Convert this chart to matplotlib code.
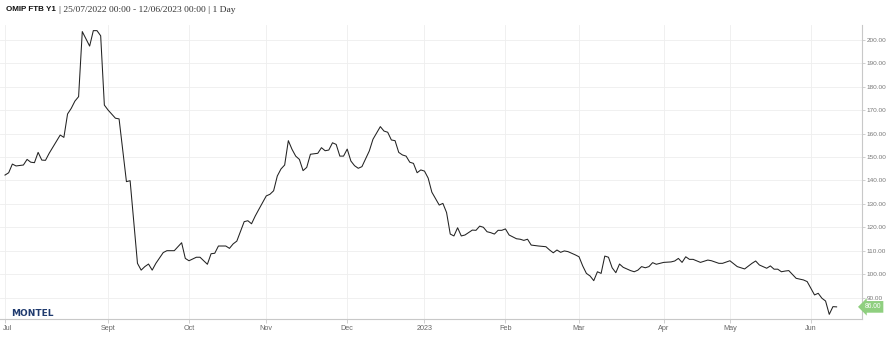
import numpy as np
import matplotlib
matplotlib.use("Agg")
import matplotlib.pyplot as plt
import matplotlib.transforms as mtransforms

# ---------------- data ----------------
title_main = "OMIP FTB Y1"
title_sub = "| 25/07/2022 00:00 - 12/06/2023 00:00 | 1 Day"
holidays = ["2022-12-26", "2023-04-07", "2023-04-10", "2023-05-01"]

dates = [
    "2022-07-25", "2022-07-26", "2022-07-27", "2022-07-28", "2022-08-01", "2022-08-02",
    "2022-08-03", "2022-08-04", "2022-08-05", "2022-08-08", "2022-08-09", "2022-08-10",
    "2022-08-15", "2022-08-16", "2022-08-17", "2022-08-18", "2022-08-19", "2022-08-22",
    "2022-08-23", "2022-08-25", "2022-08-26", "2022-08-29", "2022-08-30", "2022-08-31",
    "2022-09-01", "2022-09-05", "2022-09-06", "2022-09-08", "2022-09-09", "2022-09-13",
    "2022-09-14", "2022-09-15", "2022-09-16", "2022-09-19", "2022-09-20", "2022-09-22",
    "2022-09-23", "2022-09-27", "2022-09-29", "2022-09-30", "2022-10-03", "2022-10-05",
    "2022-10-06", "2022-10-10", "2022-10-11", "2022-10-12", "2022-10-13", "2022-10-17",
    "2022-10-18", "2022-10-19", "2022-10-20", "2022-10-24", "2022-10-25", "2022-10-26",
    "2022-10-27", "2022-10-28", "2022-11-01", "2022-11-02", "2022-11-03", "2022-11-04",
    "2022-11-07", "2022-11-08", "2022-11-09", "2022-11-10", "2022-11-11", "2022-11-14",
    "2022-11-15", "2022-11-16", "2022-11-17", "2022-11-21", "2022-11-22", "2022-11-23",
    "2022-11-24", "2022-11-25", "2022-11-28", "2022-11-29", "2022-11-30", "2022-12-01",
    "2022-12-02", "2022-12-05", "2022-12-06", "2022-12-07", "2022-12-09", "2022-12-12",
    "2022-12-14", "2022-12-15", "2022-12-16", "2022-12-19", "2022-12-20", "2022-12-21",
    "2022-12-22", "2022-12-23", "2022-12-27", "2022-12-28", "2022-12-29", "2022-12-30",
    "2023-01-02", "2023-01-03", "2023-01-04", "2023-01-06", "2023-01-09", "2023-01-10",
    "2023-01-11", "2023-01-12", "2023-01-13", "2023-01-16", "2023-01-17", "2023-01-19",
    "2023-01-20", "2023-01-23", "2023-01-24", "2023-01-25", "2023-01-26", "2023-01-27",
    "2023-01-30", "2023-01-31", "2023-02-01", "2023-02-02", "2023-02-06", "2023-02-07",
    "2023-02-08", "2023-02-09", "2023-02-10", "2023-02-14", "2023-02-16", "2023-02-17",
    "2023-02-20", "2023-02-21", "2023-02-22", "2023-02-23", "2023-02-24", "2023-02-28",
    "2023-03-01", "2023-03-02", "2023-03-03", "2023-03-06", "2023-03-07", "2023-03-08",
    "2023-03-09", "2023-03-10", "2023-03-13", "2023-03-14", "2023-03-15", "2023-03-16",
    "2023-03-17", "2023-03-21", "2023-03-22", "2023-03-23", "2023-03-24", "2023-03-27",
    "2023-03-28", "2023-03-29", "2023-03-30", "2023-03-31", "2023-04-03", "2023-04-05",
    "2023-04-06", "2023-04-11", "2023-04-12", "2023-04-13", "2023-04-14", "2023-04-17",
    "2023-04-19", "2023-04-21", "2023-04-24", "2023-04-26", "2023-04-27", "2023-05-02",
    "2023-05-04", "2023-05-05", "2023-05-08", "2023-05-10", "2023-05-11", "2023-05-12",
    "2023-05-16", "2023-05-17", "2023-05-18", "2023-05-19", "2023-05-22", "2023-05-23",
    "2023-05-24", "2023-05-26", "2023-05-30", "2023-05-31", "2023-06-02", "2023-06-05",
    "2023-06-06", "2023-06-07", "2023-06-08", "2023-06-09", "2023-06-12",
]

prices = [
    142.3, 143.3, 147.0, 146.2, 146.6, 149.0,
    147.8, 147.6, 152.0, 148.7, 148.6, 151.6,
    159.4, 158.4, 168.4, 170.8, 173.9, 175.8,
    203.6, 197.4, 204.0, 204.0, 201.8, 172.2,
    170.1, 166.6, 166.3, 139.5, 139.9, 104.6,
    101.7, 103.2, 104.3, 101.7, 104.6, 109.2,
    110.0, 110.0, 113.4, 106.7, 105.7, 107.2,
    107.2, 104.2, 108.7, 108.9, 112.0, 112.0,
    111.0, 112.9, 114.1, 122.4, 122.8, 121.5,
    124.8, 127.7, 133.4, 134.1, 135.6, 141.9,
    144.9, 146.6, 157.0, 153.3, 150.4, 149.0,
    144.2, 145.6, 151.2, 151.6, 154.0, 152.7,
    153.0, 156.1, 155.4, 150.4, 150.4, 153.4,
    148.3, 146.3, 145.2, 145.9, 152.6, 157.6,
    163.0, 161.1, 160.6, 157.3, 157.0, 152.0,
    150.9, 150.4, 147.8, 147.3, 143.3, 144.5,
    144.0, 141.0, 135.0, 129.5, 130.2, 126.3,
    117.1, 116.3, 119.8, 116.3, 116.7, 118.8,
    118.7, 120.5, 120.0, 118.1, 117.7, 117.1,
    118.7, 118.7, 119.3, 116.7, 115.1, 114.9,
    114.4, 114.9, 112.4, 112.0, 111.7, 110.3,
    109.1, 110.3, 109.3, 109.9, 109.6, 108.2,
    107.4, 103.5, 100.3, 99.2, 97.2, 101.0,
    100.3, 107.7, 107.2, 102.7, 100.6, 104.3,
    102.9, 101.5, 101.0, 101.7, 103.2, 102.7,
    103.2, 104.9, 104.2, 104.6, 105.0, 105.2,
    105.6, 106.7, 105.0, 107.4, 106.3, 106.3,
    105.0, 106.0, 105.7, 104.6, 104.6, 105.7,
    103.2, 102.7, 102.2, 104.6, 105.6, 103.9,
    102.5, 103.5, 102.1, 102.1, 101.0, 101.3,
    101.5, 98.2, 97.5, 96.8, 91.1, 91.8,
    89.7, 88.5, 82.8, 86.1, 86.0,
]

month_labels = ["Jul", "Sept", "Oct", "Nov", "Dec", "2023", "Feb", "Mar", "Apr", "May", "Jun"]
month_starts = ["2022-07-01", "2022-09-01", "2022-10-01", "2022-11-01", "2022-12-01",
                "2023-01-01", "2023-02-01", "2023-03-01", "2023-04-01", "2023-05-01",
                "2023-06-01"]
y_ticks = [90, 100, 110, 120, 130, 140, 150, 160, 170, 180, 190, 200]

# ---------------- ordinal (trading-day) axis ----------------
start = dates[0]
xpos = np.busday_count(start, np.array(dates, dtype="datetime64[D]"), holidays=holidays)
tick_pos = np.clip(np.busday_count(start, np.array(month_starts, dtype="datetime64[D]"),
                                   holidays=holidays), 0, None)

W, H = 892, 349
fig = plt.figure(figsize=(W / 100, H / 100), dpi=100)
fig.patch.set_facecolor("white")
ax = fig.add_axes([0, 30 / H, 862 / W, 294 / H])

ax.plot(xpos, prices, color="#222222", lw=0.75, solid_joinstyle="round", zorder=3)

ax.set_xlim(-1.36, 232.9)
ax.set_ylim(80.82, 206.41)

grid_c = "#eeeeee"
ax.set_xticks(tick_pos)
ax.set_xticklabels(month_labels)
ax.set_yticks(y_ticks)
ax.set_yticklabels([f"{v:.2f}" for v in y_ticks])
ax.grid(True, color=grid_c, lw=0.6)
ax.set_axisbelow(True)

ax.yaxis.tick_right()
for s in ["top", "left"]:
    ax.spines[s].set_visible(False)
for s in ["right", "bottom"]:
    ax.spines[s].set_color("#c8c8c8")
    ax.spines[s].set_linewidth(0.8)

ax.tick_params(axis="x", direction="out", length=3, width=0.6, color="#c8c8c8",
               labelsize=5.2, labelcolor="#666666", pad=1.5)
ax.tick_params(axis="y", direction="out", length=2, width=0.6, color="#c8c8c8",
               labelsize=4.6, labelcolor="#777777", pad=1.5)
for lab in ax.get_xticklabels() + ax.get_yticklabels():
    lab.set_fontfamily("Liberation Sans")

# first month label sits slightly right of the axis start
first_lab = ax.get_xticklabels()[0]
first_lab.set_transform(first_lab.get_transform() +
                        mtransforms.ScaledTranslation(3 / 100, 0, fig.dpi_scale_trans))

# last-value flag
last = prices[-1]
trans = mtransforms.blended_transform_factory(ax.transAxes, ax.transData)
ax.text(1.0 + 2.5 / 862, last, f"{last:.2f}", transform=trans, ha="left", va="center",
        fontsize=4.8, color="white", family="Liberation Sans", clip_on=False,
        bbox=dict(boxstyle="larrow,pad=0.35", fc="#8fcf7f", ec="none"), zorder=5)

# title
fig.text(6 / W, 1 - 9.5 / H, title_main, ha="left", va="center", fontsize=5.8,
         fontweight="bold", family="Liberation Sans", color="#111111")
fig.text(59 / W, 1 - 9.5 / H, title_sub, ha="left", va="center", fontsize=6.8,
         family="Liberation Serif", color="#333333")

# logo
fig.text(11 / W, 1 - 313.5 / H, "MONTEL", ha="left", va="center", fontsize=6.5,
         fontweight="bold", family="DejaVu Sans", color="#1f3a6e")

fig.savefig("out.png", dpi=100, facecolor="white")
